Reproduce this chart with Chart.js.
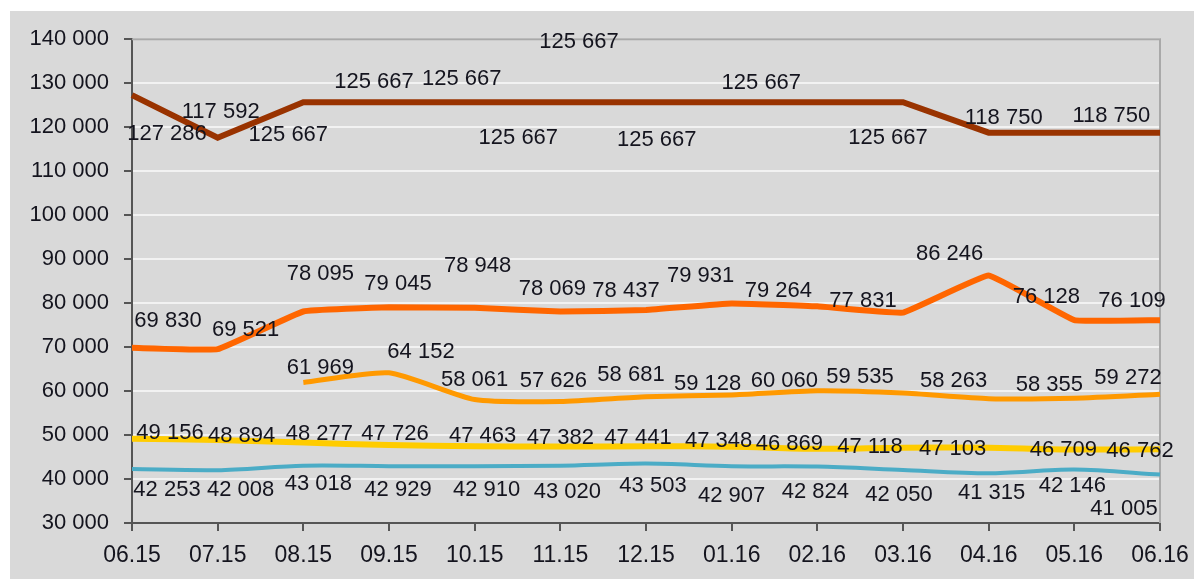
<!DOCTYPE html>
<html>
<head>
<meta charset="utf-8">
<script src="https://cdn.jsdelivr.net/npm/chart.js@4"></script>
<style>
  body { margin: 0; background: #fff; }
  #box { position: absolute; left: 10px; top: 11px; width: 1184px; height: 568px; background: #d9d9d9; }
</style>
</head>
<body>
<div id="box"><canvas id="myChart"></canvas></div>
<script>
const months = ['06.15', '07.15', '08.15', '09.15', '10.15', '11.15', '12.15', '01.16', '02.16', '03.16', '04.16', '05.16', '06.16'];

const brownValues = [127286, 117592, 125667, 125667, 125667, 125667, 125667, 125667, 125667, 125667, 118750, 118750, 118750];
const orangeValues = [69830, 69521, 78095, 79045, 78948, 78069, 78437, 79931, 79264, 77831, 86246, 76128, 76109];
const amberValues = [null, null, 61969, 64152, 58061, 57626, 58681, 59128, 60060, 59535, 58263, 58355, 59272];
const yellowValues = [49156, 48894, 48277, 47726, 47463, 47382, 47441, 47348, 46869, 47118, 47103, 46709, 46762];
const blueValues = [42253, 42008, 43018, 42929, 42910, 43020, 43503, 42907, 42824, 42050, 41315, 42146, 41005];

// where each data label sits relative to its point (dx, dy), null = no label
const brownShift = [[35, 39], [3, -26], [-15, 33], [-15, -20], [-13, -23], [-42, 36], [-67, -60], [-75, 38], [-56, -19], [-15, 36], [15, -15], [37, -17], null];
const orangeShift = [[36, -27], [28, -19], [17, -38], [9, -23], [3, -42], [-8, -23], [-20, -19], [-31, -27], [-39, -15], [-40, -12], [-39, -22], [-28, -23], [-28, -19]];
const amberShift = [null, null, [17, -14], [32, -21], [0, -20], [-7, -21], [-15, -22], [-24, -11], [-33, -10], [-43, -16], [-35, -18], [-25, -13], [-32, -16]];
const yellowShift = [[38, -6], [24, -4], [16, -9], [6, -11], [8, -10], [0, -9], [-8, -8], [-13, -6], [-28, -5], [-33, -1], [-36, 1], [-11, 0], [-20, 2]];
const blueShift = [[35, 21], [23, 20], [15, 18], [9, 24], [12, 24], [7, 26], [7, 22], [0, 30], [-2, 25], [-4, 25], [3, 20], [-2, 16], [-36, 34]];

const fmt = v => String(v).replace(/\B(?=(\d{3})+(?!\d))/g, ' ');
const textColor = '#14141e';
const fontFamily = 'Arial, "Liberation Sans", sans-serif';

const pointLabels = {
  id: 'pointLabels',
  afterDatasetsDraw(chart) {
    const c = chart.ctx;
    c.save();
    c.font = '22px ' + fontFamily;
    c.fillStyle = textColor;
    c.textAlign = 'center';
    c.textBaseline = 'middle';
    chart.data.datasets.forEach((ds, i) => {
      const meta = chart.getDatasetMeta(i);
      meta.data.forEach((pt, j) => {
        const v = ds.data[j];
        const s = ds.shifts[j];
        if (v == null || !s) return;
        c.fillText(fmt(v), pt.x + s[0], pt.y + s[1]);
      });
    });
    c.restore();
  }
};

const plotFrame = {
  id: 'plotFrame',
  beforeDatasetsDraw(chart) {
    const a = chart.chartArea;
    const c = chart.ctx;
    c.save();
    c.strokeStyle = '#a9a9a9';
    c.lineWidth = 2;
    c.beginPath();
    c.moveTo(a.left, a.top);
    c.lineTo(a.right, a.top);
    c.lineTo(a.right, a.bottom);
    c.stroke();
    c.restore();
  }
};

const line = (data, color, width, tension, shifts) => ({
  data: data,
  borderColor: color,
  backgroundColor: color,
  borderWidth: width,
  tension: tension,
  pointRadius: 0,
  spanGaps: false,
  shifts: shifts
});

new Chart(document.getElementById('myChart'), {
  type: 'line',
  data: {
    labels: months,
    datasets: [
      line(brownValues, '#993300', 6, 0, brownShift),
      line(orangeValues, '#ff6600', 6, 0.08, orangeShift),
      line(amberValues, '#ff9900', 5, 0.2, amberShift),
      line(yellowValues, '#ffcc00', 6, 0.3, yellowShift),
      line(blueValues, '#4bacc6', 4, 0.3, blueShift)
    ]
  },
  options: {
    responsive: true,
    maintainAspectRatio: false,
    animation: false,
    layout: { padding: { top: 26, right: 34, left: 0, bottom: 0 } },
    plugins: {
      legend: { display: false },
      tooltip: { enabled: false }
    },
    scales: {
      x: {
        offset: false,
        afterFit: s => { s.height = 56; s.paddingLeft = 0; s.paddingRight = 0; },
        grid: { drawOnChartArea: false, tickLength: 8, tickColor: '#555', lineWidth: 2 },
        border: { display: true, color: '#555', width: 2 },
        ticks: { color: textColor, font: { size: 23, family: fontFamily }, padding: 11, maxRotation: 0, autoSkip: false }
      },
      y: {
        min: 30000,
        max: 140000,
        afterFit: s => { s.width = 122; },
        grid: { color: '#f2f2f2', lineWidth: 2, tickLength: 8, tickColor: '#555' },
        border: { display: true, color: '#555', width: 2 },
        ticks: { stepSize: 10000, color: textColor, font: { size: 22, family: fontFamily }, padding: 15, callback: v => fmt(v) }
      }
    }
  },
  plugins: [plotFrame, pointLabels]
});
</script>
</body>
</html>
